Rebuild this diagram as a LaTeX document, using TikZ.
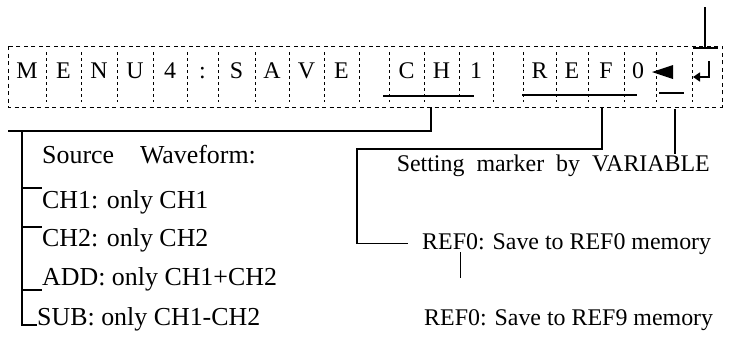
\documentclass[tikz,border=0pt]{standalone}
\usepackage{fontspec}
\setmainfont{Liberation Serif}
\usetikzlibrary{
  arrows.meta,
  positioning
}

\begin{document}
\begin{tikzpicture}[x=1bp,y=-1bp,
  cellbox/.style={draw, line width=0.8pt, dash pattern=on 4bp off 3.5bp},
  sep/.style={line width=0.8pt, dash pattern=on 3bp off 3bp},
  cellchar/.style={inner sep=0pt, anchor=base, font=\fontsize{24}{28}\selectfont},
  label/.style={inner sep=0pt, anchor=base west, font=\fontsize{26}{30}\selectfont},
  rlabel/.style={label, font=\fontsize{24}{28}\selectfont},
  wire/.style={line width=1.3pt},
  bar/.style={line width=1.8pt}]

  \useasboundingbox (0,0) rectangle (729,336);

  % display row
  \draw[cellbox] (8,46) rectangle (722,107);
  \foreach \x in {46,81,117,153,187,218,255,289,324,359,389,424,459,493,523,556,588,624,656,692}
    \draw[sep] (\x,52) -- (\x,102);
  \foreach \ch/\x [count=\i] in {M/27,E/63.5,N/99,U/135,4/170,:/202.5,S/236.5,A/272,V/306.5,E/341.5,
      C/406.5,H/441.5,1/476,R/539.5,E/572,F/606,0/638}
    \node[cellchar] (k\i) at (\x,78) {\ch};

  % cursor and enter key
  \fill (652,72) -- (673,65) -- (673,79) -- cycle;
  \draw[line width=1.6pt, -{Triangle[length=7bp,width=9bp]}] (709,61) -- (709,77) -- (693,77);
  \draw[bar] (693,48) -- (718,48);

  % underlines
  \draw[wire] (383,96) -- (474,96);
  \draw[wire] (522,95) -- (637,95);
  \draw[bar] (659,93) -- (684,93);

  % labels, left
  \node[label] (src) at (42,163) {Source\quad Waveform:};
  \node[label] (ch1) at (42,208) {CH1: only CH1};
  \node[label] (ch2) at (42,246) {CH2: only CH2};
  \node[label] (add) at (42,285) {ADD: only CH1+CH2};
  \node[label] (sub) at (37,325) {SUB: only CH1-CH2};

  % labels, right
  \node[rlabel, anchor=base east] (setmk) at (710,171) {Setting\ \ marker\ \ by\ \ VARIABLE};
  \node[rlabel] (ref0) at (422,249) {REF0: Save to REF0 memory};
  \node[rlabel] (ref9) at (424,325) {REF0: Save to REF9 memory};

  % taps below the display
  \coordinate (chtap) at (431,107);
  \coordinate (reftap) at (602,107);
  \coordinate (curtap) at (675,109);
  \coordinate (entap) at (705,48);

  \draw[wire] (chtap) |- (8,131);
  \draw[wire] (22,131) |- (sub.base west);
  \draw[wire] (22,188) -- (42,188);
  \draw[wire] (22,227) -- (42,227);
  \draw[wire] (22,290) -- (42,290);

  \draw[wire] (reftap) |- (357,149) |- ([xshift=-14]ref0.west);
  \draw[wire] (curtap) -- (curtap |- setmk.north);
  \draw[wire] (entap) -- (705,7);
  \draw[line width=0.7pt] (460,252) -- (460,278);

\end{tikzpicture}
\end{document}
